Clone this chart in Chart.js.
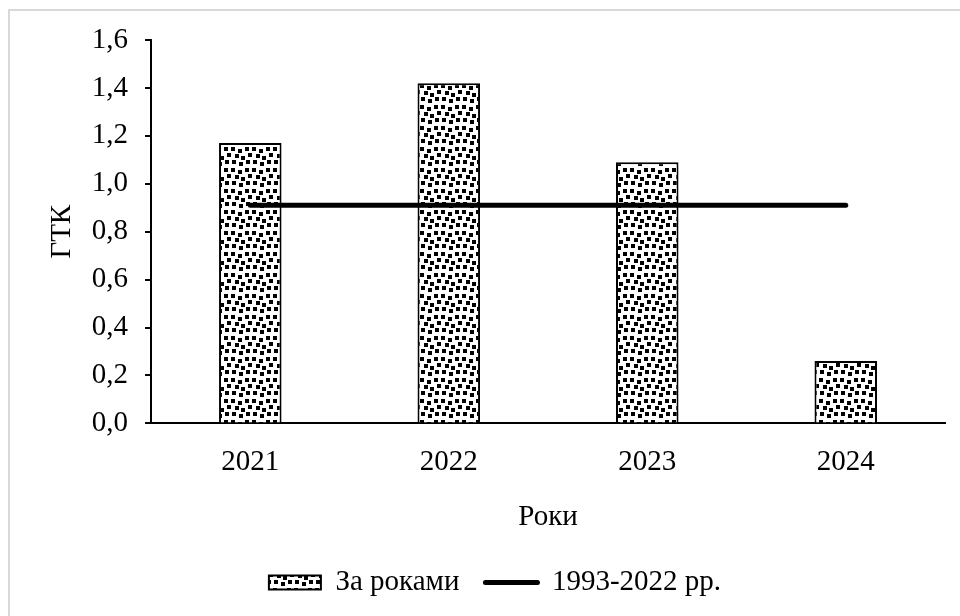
<!DOCTYPE html>
<html><head><meta charset="utf-8">
<script src="https://cdn.jsdelivr.net/npm/chart.js@4/dist/chart.umd.min.js"></script>
<style>
html,body{margin:0;padding:0;background:#fff;overflow:hidden;}
#frame{position:absolute;left:8px;top:9px;width:980px;height:640px;border:2px solid #d9d9d9;box-sizing:border-box;}
#wrap{position:absolute;left:0;top:0;width:960px;height:616px;}
</style></head>
<body>
<div id="frame"></div>
<div id="wrap"><canvas id="c" width="960" height="616"></canvas></div>
<script>
const categories = ['2021', '2022', '2023', '2024'];
const byYears = [1.17, 1.42, 1.09, 0.26];
const norm = [0.91, 0.91, 0.91, 0.91];
const seriesNames = ['За роками', '1993-2022 рр.'];
const yTitle = 'ГТК';
const xTitle = 'Роки';

function makePattern() {
  const n = 21;
  const t = document.createElement('canvas');
  t.width = n; t.height = n;
  const g = t.getContext('2d');
  g.fillStyle = '#fff'; g.fillRect(0, 0, n, n);
  g.fillStyle = '#000';
  const sq = [[0,0],[7,2],[14,0],[4,7],[10,9],[17,6],[1,13],[8,15],[15,13]];
  sq.forEach(([x,y]) => {
    for (const dx of [0, -n]) for (const dy of [0, -n]) g.fillRect(x + dx, y + dy, 4, 4);
  });
  return g.createPattern(t, 'repeat');
}
const ctx = document.getElementById('c').getContext('2d');
const pat = makePattern();
const font = 'Liberation Serif, Times New Roman, serif';
const fs = 29;

new Chart(ctx, {
  data: {
    labels: categories,
    datasets: [
      { type: 'bar', label: seriesNames[0], data: byYears, backgroundColor: pat, borderColor: '#000', borderWidth: 2, barPercentage: 0.315, categoryPercentage: 1, order: 1 },
      { type: 'line', label: seriesNames[1], data: norm, borderColor: '#000', borderWidth: 5, pointRadius: 0, borderCapStyle: 'round', fill: false, order: 0 }
    ]
  },
  options: {
    responsive: false,
    animation: false,
    layout: { padding: { left: 45, right: 15, top: 40, bottom: 9 } },
    plugins: {
      tooltip: { enabled: false },
      legend: {
        position: 'bottom',
        labels: {
          color: '#000',
          font: { family: font, size: fs },
          usePointStyle: true,
          pointStyleWidth: 52,
          boxHeight: 14,
          padding: 26,
          generateLabels: (chart) => chart.data.datasets.map((d, i) => ({
            text: d.label,
            fillStyle: i === 0 ? pat : '#000',
            strokeStyle: '#000',
            lineWidth: i === 0 ? 2 : 5,
            lineCap: 'round',
            pointStyle: i === 0 ? 'rect' : 'line',
            fontColor: '#000',
            datasetIndex: i,
            hidden: false
          }))
        }
      }
    },
    scales: {
      x: {
        grid: { display: false },
        border: { display: true, color: '#000', width: 2 },
        ticks: { color: '#000', font: { family: font, size: fs }, padding: 14 },
        title: { display: true, text: xTitle, color: '#000', font: { family: font, size: fs }, padding: { top: 6, bottom: 7 } }
      },
      y: {
        min: 0, max: 1.6,
        grid: { drawOnChartArea: false, drawTicks: true, tickLength: 6, color: '#000', lineWidth: 2 },
        border: { display: true, color: '#000', width: 2 },
        ticks: { stepSize: 0.2, color: '#000', font: { family: font, size: fs }, padding: 17,
          callback: (v) => v.toFixed(1).replace('.', ',') },
        title: { display: true, text: yTitle, color: '#000', font: { family: font, size: fs }, padding: { top: 0, bottom: -5 } }
      }
    }
  }
});
</script>
</body></html>
